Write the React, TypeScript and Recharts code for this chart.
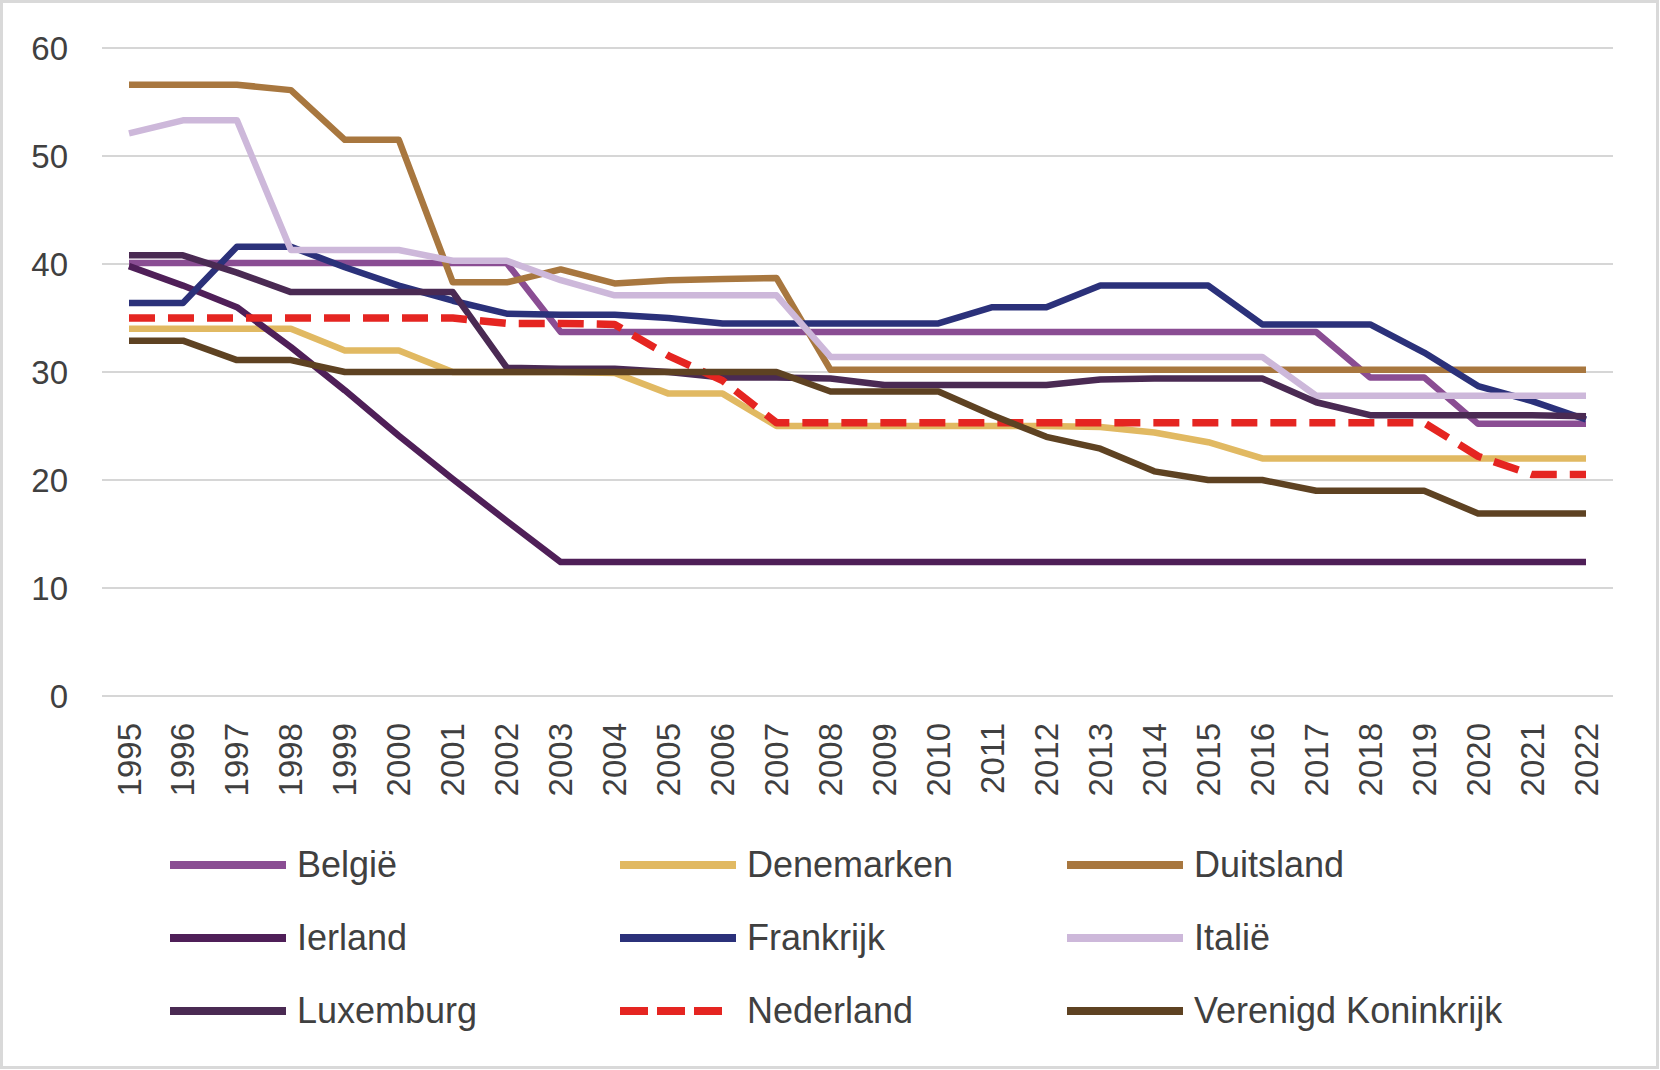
import React from 'react';
import { LineChart, Line, XAxis, YAxis, CartesianGrid } from 'recharts';

const FONT = '"Liberation Sans", Arial, sans-serif';
const TEXT = '#404040';

const years = ['1995','1996','1997','1998','1999','2000','2001','2002','2003','2004','2005','2006','2007','2008','2009','2010','2011','2012','2013','2014','2015','2016','2017','2018','2019','2020','2021','2022'];
const yTicks = [0, 10, 20, 30, 40, 50, 60];

const belgie = [40.1,40.1,40.1,40.1,40.1,40.1,40.1,40.1,33.7,33.7,33.7,33.7,33.7,33.7,33.7,33.7,33.7,33.7,33.7,33.7,33.7,33.7,33.7,29.5,29.5,25.2,25.2,25.2];
const denemarken = [34.0,34.0,34.0,34.0,32.0,32.0,30.0,30.0,30.0,29.9,28.0,28.0,25.0,25.0,25.0,25.0,25.0,25.0,24.9,24.4,23.5,22.0,22.0,22.0,22.0,22.0,22.0,22.0];
const duitsland = [56.6,56.6,56.6,56.1,51.5,51.5,38.3,38.3,39.5,38.2,38.5,38.6,38.7,30.2,30.2,30.2,30.2,30.2,30.2,30.2,30.2,30.2,30.2,30.2,30.2,30.2,30.2,30.2];
const ierland = [39.8,38.0,36.0,32.3,28.3,24.1,20.1,16.2,12.4,12.4,12.4,12.4,12.4,12.4,12.4,12.4,12.4,12.4,12.4,12.4,12.4,12.4,12.4,12.4,12.4,12.4,12.4,12.4];
const frankrijk = [36.4,36.4,41.6,41.6,39.7,38.0,36.6,35.4,35.3,35.3,35.0,34.5,34.5,34.5,34.5,34.5,36.0,36.0,38.0,38.0,38.0,34.4,34.4,34.4,31.8,28.7,27.3,25.6];
const italie = [52.1,53.3,53.3,41.3,41.3,41.3,40.3,40.3,38.5,37.1,37.1,37.1,37.1,31.4,31.4,31.4,31.4,31.4,31.4,31.4,31.4,31.4,27.8,27.8,27.8,27.8,27.8,27.8];
const luxemburg = [40.8,40.8,39.2,37.4,37.4,37.4,37.4,30.4,30.3,30.3,30.0,29.5,29.5,29.4,28.8,28.8,28.8,28.8,29.3,29.4,29.4,29.4,27.2,26.0,26.0,26.0,26.0,25.9];
const nederland = [35.0,35.0,35.0,35.0,35.0,35.0,35.0,34.5,34.5,34.4,31.5,29.2,25.3,25.3,25.3,25.3,25.3,25.3,25.3,25.3,25.3,25.3,25.3,25.3,25.3,22.2,20.5,20.5];
const verenigdKoninkrijk = [32.9,32.9,31.1,31.1,30.0,30.0,30.0,30.0,30.0,30.0,30.0,30.0,30.0,28.2,28.2,28.2,26.0,24.0,22.9,20.8,20.0,20.0,19.0,19.0,19.0,16.9,16.9,16.9];

const series = [
  { key: 'belgie', name: 'België', color: '#8A4D93', values: belgie, dashed: false },
  { key: 'denemarken', name: 'Denemarken', color: '#E1B962', values: denemarken, dashed: false },
  { key: 'duitsland', name: 'Duitsland', color: '#A8773F', values: duitsland, dashed: false },
  { key: 'ierland', name: 'Ierland', color: '#4F1F58', values: ierland, dashed: false },
  { key: 'frankrijk', name: 'Frankrijk', color: '#2B317A', values: frankrijk, dashed: false },
  { key: 'italie', name: 'Italië', color: '#CDB8DA', values: italie, dashed: false },
  { key: 'luxemburg', name: 'Luxemburg', color: '#4A2A53', values: luxemburg, dashed: false },
  { key: 'nederland', name: 'Nederland', color: '#E52521', values: nederland, dashed: true },
  { key: 'vk', name: 'Verenigd Koninkrijk', color: '#5E4222', values: verenigdKoninkrijk, dashed: false },
];

const data = years.map((year, i) => {
  const row: any = { year };
  series.forEach((s) => { row[s.key] = s.values[i]; });
  return row;
});

const XTick = (props: any) => {
  const { x, y, payload } = props;
  return (
    <text
      x={x}
      y={y}
      transform={`rotate(-90 ${x} ${y})`}
      textAnchor="end"
      dominantBaseline="central"
      fill={TEXT}
      fontSize={33}
      fontFamily={FONT}
    >
      {payload.value}
    </text>
  );
};

const legendCols = [170, 620, 1067];
const legendRows = [865, 938, 1011];

export default function App() {
  return (
    <div style={{ position: 'absolute', left: 0, top: 0, width: 1660, height: 1070, background: '#fff', fontFamily: FONT }}>
      <LineChart width={1660} height={1070} data={data} margin={{ top: 48, right: 47, left: 0, bottom: 0 }}>
        <CartesianGrid vertical={false} stroke="#d6d6d6" strokeWidth={2} />
        <XAxis
          dataKey="year"
          height={374}
          axisLine={false}
          tickLine={false}
          tickSize={0}
          tickMargin={27}
          interval={0}
          padding={{ left: 27, right: 27 }}
          tick={<XTick />}
        />
        <YAxis
          domain={[0, 60]}
          ticks={yTicks}
          width={102}
          axisLine={false}
          tickLine={false}
          tickSize={0}
          tickMargin={34}
          tick={{ fill: TEXT, fontSize: 33, fontFamily: FONT }}
        />
        {series.map((s) => (
          <Line
            key={s.key}
            type="linear"
            dataKey={s.key}
            name={s.name}
            stroke={s.color}
            strokeWidth={s.dashed ? 7.5 : 6.5}
            strokeDasharray={s.dashed ? '26 13' : undefined}
            strokeLinejoin="round"
            dot={false}
            activeDot={false}
            isAnimationActive={false}
          />
        ))}
      </LineChart>
      {series.map((s, i) => {
        const c = i % 3;
        const r = Math.floor(i / 3);
        return (
          <div
            key={s.key}
            style={{
              position: 'absolute',
              left: legendCols[c],
              top: legendRows[r] - 25,
              height: 50,
              display: 'flex',
              alignItems: 'center',
              whiteSpace: 'nowrap',
            }}
          >
            <svg width={116} height={10} style={{ display: 'block' }}>
              <line
                x1={0}
                y1={5}
                x2={s.dashed ? 107 : 116}
                y2={5}
                stroke={s.color}
                strokeWidth={8}
                strokeDasharray={s.dashed ? '28 9' : undefined}
              />
            </svg>
            <span style={{ marginLeft: 11, fontSize: 36, color: TEXT, lineHeight: '50px' }}>{s.name}</span>
          </div>
        );
      })}
      <div
        style={{
          position: 'absolute',
          left: 0,
          top: 0,
          width: 1659,
          height: 1069,
          border: '3px solid #d9d9d9',
          boxSizing: 'border-box',
          pointerEvents: 'none',
        }}
      />
    </div>
  );
}
